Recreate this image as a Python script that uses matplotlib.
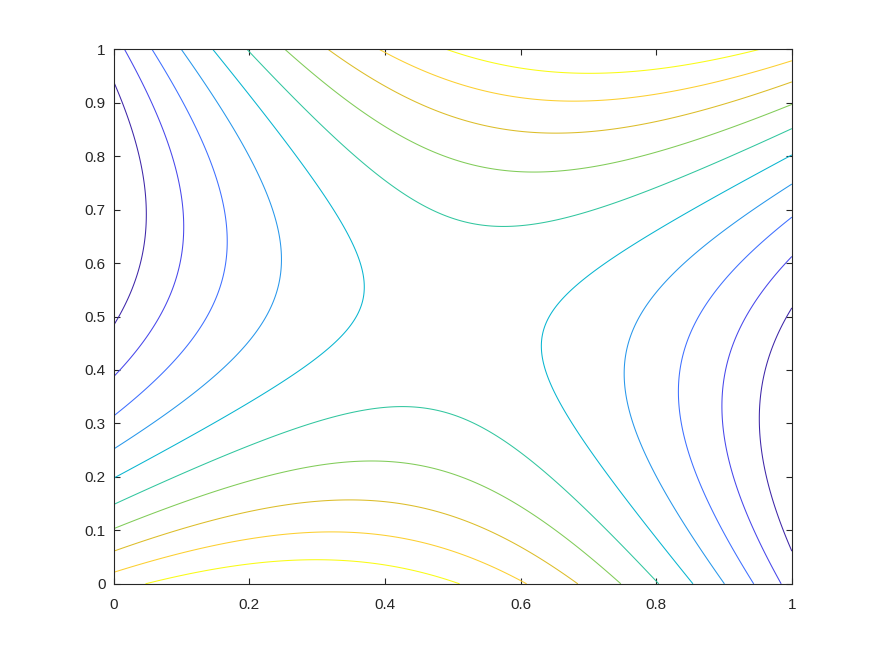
import numpy as np
import matplotlib
matplotlib.use("Agg")
import matplotlib.pyplot as plt

# --- field: saddle centred at (0.5, 0.5) ---
center_x = 0.5
center_y = 0.5
coef_vv = 1.0       # (y-cy)^2
coef_uu = -0.9536   # (x-cx)^2
coef_uv = 0.8454    # (x-cx)(y-cy)

# contour levels (10 equally spaced)
level_start = -0.2313
level_step = 0.0530
n_levels = 10

x_ticks = [0, 0.2, 0.4, 0.6, 0.8, 1]
x_tick_labels = ["0", "0.2", "0.4", "0.6", "0.8", "1"]
y_ticks = [0, 0.1, 0.2, 0.3, 0.4, 0.5, 0.6, 0.7, 0.8, 0.9, 1]
y_tick_labels = ["0", "0.1", "0.2", "0.3", "0.4", "0.5", "0.6", "0.7", "0.8", "0.9", "1"]

# parula(10)
parula10 = [
    (0.2422, 0.1504, 0.6603),
    (0.2803, 0.2782, 0.9221),
    (0.2440, 0.4358, 0.9988),
    (0.1540, 0.5902, 0.9218),
    (0.0297, 0.7082, 0.8163),
    (0.1938, 0.7758, 0.6251),
    (0.5044, 0.7993, 0.3480),
    (0.8634, 0.7406, 0.1596),
    (0.9892, 0.8136, 0.1885),
    (0.9769, 0.9839, 0.0805),
]

levels = level_start + level_step * np.arange(n_levels)

xs = np.linspace(0, 1, 401)
ys = np.linspace(0, 1, 401)
X, Y = np.meshgrid(xs, ys)
U = X - center_x
V = Y - center_y
Z = coef_vv * V**2 + coef_uu * U**2 + coef_uv * U * V

plt.rcParams['font.family'] = ['Liberation Sans', 'DejaVu Sans']

fig = plt.figure(figsize=(8.75, 6.56), dpi=100)
ax = fig.add_axes([0.13, 0.11, 0.775, 0.815])
ax.contour(X, Y, Z, levels=levels, colors=parula10, linewidths=0.75)

ax.set_xlim(0, 1)
ax.set_ylim(0, 1)
ax.set_xticks(x_ticks)
ax.set_xticklabels(x_tick_labels)
ax.set_yticks(y_ticks)
ax.set_yticklabels(y_tick_labels)
axis_col = (0.15, 0.15, 0.15)
for s in ax.spines.values():
    s.set_color(axis_col)
    s.set_linewidth(0.8)
ax.tick_params(direction='in', length=4.5, width=0.8, colors=axis_col,
               labelsize=11, top=True, right=True, labelcolor=axis_col)
ax.tick_params(axis='x', pad=10)
ax.tick_params(axis='y', pad=6)

fig.savefig("out.png", dpi=100)
